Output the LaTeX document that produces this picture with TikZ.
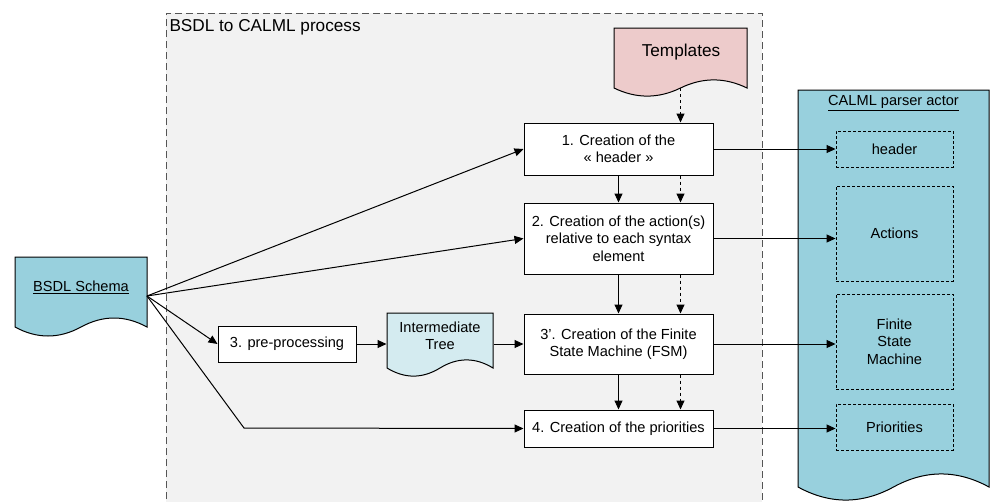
\documentclass[tikz,border=0pt]{standalone}
\usepackage{fontspec}
\setmainfont{Liberation Sans}
\usetikzlibrary{arrows.meta}
\definecolor{procfill}{HTML}{F2F2F2}
\definecolor{procline}{HTML}{555555}
\definecolor{tplfill}{HTML}{EDCBCB}
\definecolor{bsdlfill}{HTML}{98D0DD}
\definecolor{treefill}{HTML}{D4EBF0}

% document shape: style, x0, y0 (top left), x1 (right), yb (bottom of sides), dy (wave size)
\newcommand\docshape[6]{%
  \path[#1] (#2,#3) -- (#4,#3) -- (#4,#5)
    .. controls ({#4-(#4-#2)/6},{#5-0.6*#6}) and ({(#2+#4)/2+(#4-#2)/6},{#5-0.6*#6}) .. ({(#2+#4)/2},#5)
    .. controls ({(#2+#4)/2-(#4-#2)/6},{#5+0.6*#6}) and ({#2+(#4-#2)/6},{#5+0.6*#6}) .. (#2,#5) -- cycle;}

\begin{document}
\begin{tikzpicture}[x=1pt,y=-1pt,line width=1pt,
  >={Triangle[length=9pt,width=8pt]},
  every node/.style={font=\fontsize{14.6}{17.5}\selectfont,inner sep=0pt,align=center},
  bigtext/.style={font=\fontsize{17.2}{20}\selectfont},
  stepbox/.style={draw,fill=white,minimum width=189pt},
  part/.style={draw,dash pattern=on 3pt off 2pt,line width=0.9pt,minimum width=117pt},
  flow/.style={->},
  dflow/.style={->,dash pattern=on 3pt off 3pt}]
\useasboundingbox (0,0) rectangle (990,501);
\clip (0,0) rectangle (990,501);

% process frame
\fill[procfill] (166,13) rectangle (762,510);
\draw[procline,dash pattern=on 7pt off 4pt] (166,510) -- (166,13) -- (762,13) -- (762,510);
\node[anchor=west,bigtext] (ptitle) at (169,27) {BSDL to CALML process};

% documents
\docshape{draw,fill=tplfill}{614}{28}{747}{88}{18}
\node[bigtext] (tpl) at (681,52) {Templates};
\coordinate (tplbot) at (680.5,88);

\docshape{draw,fill=bsdlfill}{15}{257}{147}{327}{20}
\node (bsdl) at (81,287) {\underline{BSDL Schema}};
\coordinate (fan) at (147,296);

\docshape{draw,fill=treefill}{387}{313}{493}{368}{18}
\node[minimum width=106pt] (tree) at (440,336) {Intermediate\\Tree};

\docshape{draw,fill=bsdlfill}{798}{90}{989}{487}{29}
\node (calml) at (893.5,103) {\underline{CALML parser actor}};

% process steps
\node[stepbox,minimum height=52pt] (s1) at (618.5,149) {1. Creation of the\\« header »};
\node[stepbox,minimum height=71pt] (s2) at (618.5,238.5) {2. Creation of the action(s)\\relative to each syntax\\element};
\node[stepbox,minimum height=60pt] (s3) at (618.5,344) {3{\char"27}. Creation of the Finite\\State Machine (FSM)};
\node[stepbox,minimum height=37pt] (s4) at (618.5,428.5) {4. Creation of the priorities};
\node[draw,fill=white,minimum width=138pt,minimum height=36pt] (pre) at (287,344) {3. pre-processing};

% parts of the actor
\node[part,minimum height=36pt] (hdr) at (894.5,149) {header};
\node[part,minimum height=95pt] (act) at (894.5,233.5) {Actions};
\node[part,minimum height=95pt] (fsm) at (894.5,341.5) {Finite\\State\\Machine};
\node[part,minimum height=46pt] (pri) at (894.5,427) {Priorities};

% template flow
\draw[dflow] (tplbot) -- (s1.north -| tplbot);
\draw[dflow] (s1.south -| tplbot) -- (s2.north -| tplbot);
\draw[dflow] (s2.south -| tplbot) -- (s3.north -| tplbot);
\draw[dflow] (s3.south -| tplbot) -- (s4.north -| tplbot);
\draw[flow] (s1) -- (s2);
\draw[flow] (s2) -- (s3);
\draw[flow] (s3) -- (s4);

% schema inputs
\draw[flow] (fan) -- (s1.west);
\draw[flow] (fan) -- (s2.west);
\draw[flow] (fan) -- (pre.west);
\draw[flow] (fan) -- (244,428) -- (s4.west);
\draw[flow] (pre) -- (pre.east -| tree.west);
\draw[flow] (tree.east |- s3.west) -- (s3.west);

% outputs
\draw[flow] (s1.east) -- (hdr.west);
\draw[flow] (s2.east) -- (s2.east -| act.west);
\draw[flow] (s3.east) -- (s3.east -| fsm.west);
\draw[flow] (s4.east) -- (s4.east -| pri.west);
\end{tikzpicture}
\end{document}
